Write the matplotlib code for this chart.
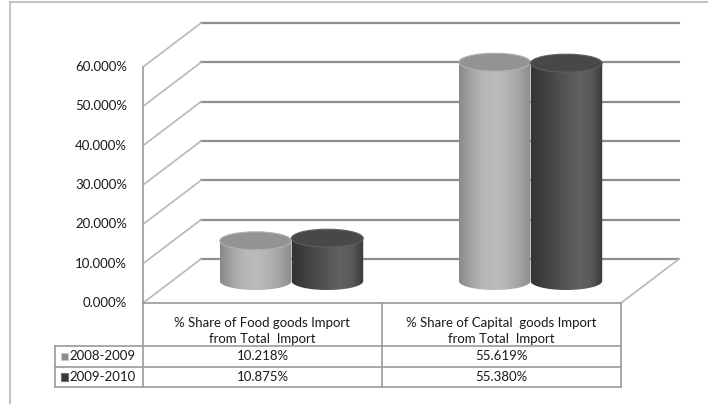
import numpy as np
import matplotlib.pyplot as plt
from matplotlib.lines import Line2D
from matplotlib.patches import Ellipse, PathPatch, Rectangle
from matplotlib.path import Path

plt.rcParams["font.family"] = ["Lato", "DejaVu Sans"]

# chart data
categories = [
    "% Share of Food goods Import\nfrom Total  Import",
    "% Share of Capital  goods Import\nfrom Total  Import",
]
periods = ["2008-2009", "2009-2010"]
share_2008_09 = [10.218, 55.619]
share_2009_10 = [10.875, 55.380]
y_ticks = [0, 10, 20, 30, 40, 50, 60]

W_PX, H_PX = 708, 404
X_SCALE = 239.0          # pixels per category
Y_SCALE = 236.0 / 60.0   # pixels per percent
ORIGIN_X, ORIGIN_Y = 143, 303
DX = 58 / X_SCALE        # depth offset of the back wall
DY = 44 / Y_SCALE
BAR_W = 0.3
CAP = 9 / Y_SCALE        # half height of the cylinder ellipses
FS = 9.5
TXT = "#1a1a1a"

fig = plt.figure(figsize=(W_PX / 100, H_PX / 100), dpi=100)
ax = fig.add_axes([0, 0, 1, 1])
ax.axis("off")


def set_limits():
    ax.set_xlim(-ORIGIN_X / X_SCALE, (W_PX - ORIGIN_X) / X_SCALE)
    ax.set_ylim(-(H_PX - ORIGIN_Y) / Y_SCALE, ORIGIN_Y / Y_SCALE)


def px_y(p):
    return -(p - ORIGIN_Y) / Y_SCALE


def px_x(p):
    return (p - ORIGIN_X) / X_SCALE


set_limits()

# outer chart frame
fig.add_artist(Line2D([10 / W_PX, 10 / W_PX], [0, 1 - 2 / H_PX], color="#b8b8b8", lw=1.2))
fig.add_artist(Line2D([10 / W_PX, 1], [1 - 2 / H_PX, 1 - 2 / H_PX], color="#b8b8b8", lw=1.2))

# back wall gridlines, side wall and floor
n_cat = len(categories)
for t in y_ticks:
    ax.plot([DX, n_cat + DX], [t + DY, t + DY], color="#8e8e8e", lw=1.6, zorder=1)
    ax.plot([0, DX], [t, t + DY], color="#b8b8b8", lw=1.2, zorder=1)
    ax.text(px_x(127), t, f"{t:.3f}%", ha="right", va="center", fontsize=FS, color=TXT)
ax.plot([0, 0], [0, y_ticks[-1]], color="#a8a8a8", lw=1.4, zorder=1)
ax.plot([n_cat, n_cat + DX], [0, DY], color="#b8b8b8", lw=1.2, zorder=1)


def shade(levels):
    vals = np.interp(np.linspace(0, 1, 200), np.linspace(0, 1, len(levels)), levels) / 255
    return np.dstack([vals, vals, vals])[None, 0]


styles = {
    0: dict(body=[0x88, 0xa4, 0xb6, 0xbc, 0xb4, 0xa4, 0x8c], top="#939393", rim="#b2b2b2"),
    1: dict(body=[0x34, 0x3e, 0x4a, 0x56, 0x62, 0x5a, 0x38], top="#484848", rim="#5e5e5e"),
}

base = DY / 2
for i, values in enumerate([share_2008_09, share_2009_10]):
    st = styles[i]
    for j, v in enumerate(values):
        cx = j + 0.5 + (i - 0.5) * BAR_W + DX / 2
        left, right = cx - BAR_W / 2, cx + BAR_W / 2
        top = base + v
        theta = np.linspace(np.pi, 2 * np.pi, 60)
        arc = np.column_stack([cx + BAR_W / 2 * np.cos(theta), base + CAP * np.sin(theta)])
        verts = np.vstack([[left, top], arc, [right, top], [left, top]])
        body = PathPatch(Path(verts, closed=True), facecolor="none", edgecolor="none")
        ax.add_patch(body)
        img = ax.imshow(shade(st["body"]), extent=(left, right, base - CAP, top),
                        aspect="auto", interpolation="bilinear", zorder=2 + i)
        img.set_clip_path(body)
        ax.add_patch(Ellipse((cx, top), BAR_W, 2 * CAP, facecolor=st["top"],
                             edgecolor=st["rim"], lw=0.8, zorder=2.5 + i))

set_limits()

# data table below the floor
row_y = [px_y(346), px_y(367), px_y(387)]
legend_left = px_x(55)
line_kw = dict(color="#9a9a9a", lw=1.2, zorder=5)
ax.plot([0, n_cat], [0, 0], **line_kw)
for x in range(n_cat + 1):
    ax.plot([x, x], [0, row_y[-1]], **line_kw)
ax.plot([legend_left, legend_left], [row_y[0], row_y[-1]], **line_kw)
for y in row_y:
    ax.plot([legend_left, n_cat], [y, y], **line_kw)

for j, cat in enumerate(categories):
    ax.text(j + 0.5, px_y(317), cat, ha="center", va="top",
            fontsize=FS, linespacing=1.4, color=TXT, zorder=4)

key_colors = [["#c8c8c8", "#8c8c8c"], ["#707070", "#383838"]]
for r, (period, values) in enumerate(zip(periods, [share_2008_09, share_2009_10])):
    yc = (row_y[r] + row_y[r + 1]) / 2
    ax.add_patch(Rectangle((px_x(61), yc - 0.95), 7 / X_SCALE, 1.9, facecolor=key_colors[r][1],
                           edgecolor=key_colors[r][0], lw=0.8, zorder=6))
    ax.text(px_x(69), yc, period, ha="left", va="center", fontsize=FS, color=TXT)
    for j, v in enumerate(values):
        ax.text(j + 0.5, yc, f"{v:.3f}%", ha="center", va="center", fontsize=FS, color=TXT)

fig.savefig("out.png", dpi=100)
